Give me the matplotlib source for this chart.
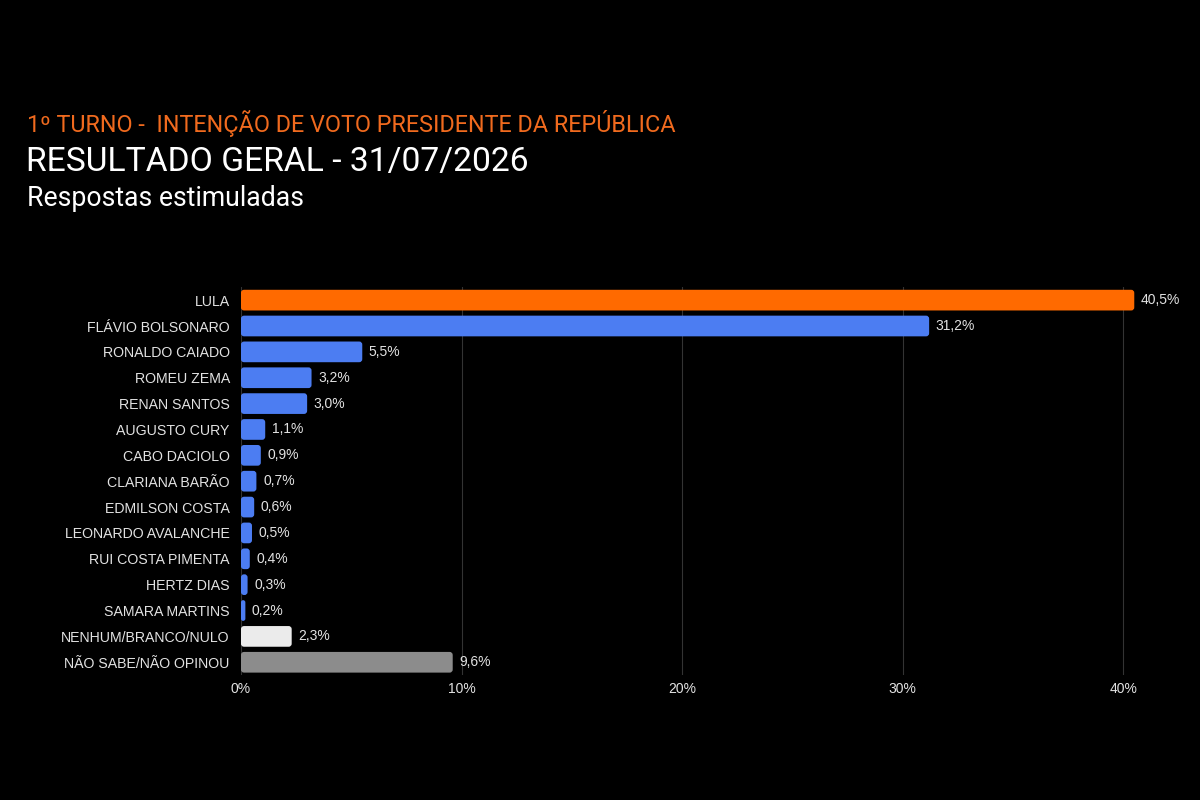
import numpy as np
import matplotlib
matplotlib.use("Agg")
import matplotlib.pyplot as plt
from matplotlib.patches import FancyBboxPatch

# ==================================================
# Data
# ==================================================
candidates = [
    "LULA", "FLÁVIO BOLSONARO", "RONALDO CAIADO", "ROMEU ZEMA", "RENAN SANTOS",
    "AUGUSTO CURY", "CABO DACIOLO", "CLARIANA BARÃO", "EDMILSON COSTA",
    "LEONARDO AVALANCHE", "RUI COSTA PIMENTA", "HERTZ DIAS", "SAMARA MARTINS",
    "NENHUM/BRANCO/NULO", "NÃO SABE/NÃO OPINOU",
]
values = [40.5, 31.2, 5.5, 3.2, 3.0, 1.1, 0.9, 0.7, 0.6, 0.5, 0.4, 0.3, 0.2, 2.3, 9.6]
bar_colors = ["#FF6A00"] + ["#4C7DF2"] * 12 + ["#EBEBEB", "#8C8C8C"]
x_ticks = [0, 10, 20, 30, 40]

title_1 = "1º TURNO -  INTENÇÃO DE VOTO PRESIDENTE DA REPÚBLICA"
title_2 = "RESULTADO GERAL - 31/07/2026"
title_3 = "Respostas estimuladas"

bg = "#000000"
label_color = "#E2E2E2"

# ==================================================
# Figure
# ==================================================
fig = plt.figure(figsize=(12, 8), dpi=100, facecolor=bg)
ax = fig.add_axes([0.2008, 0.156, 0.772, 0.485], facecolor=bg)

y = np.arange(len(candidates))
bars = ax.barh(y, values, height=0.8, color=bar_colors)

ax.set_xlim(0, 42)
ax.set_ylim(len(candidates) - 0.5, -0.5)

# swap plain bars for rounded ones
aspect = 0.853
for bar, col in zip(bars, bar_colors):
    x0, y0 = bar.get_x(), bar.get_y()
    w, h = bar.get_width(), bar.get_height()
    r = min(0.14, w / 2)
    patch = FancyBboxPatch((x0, y0), w, h,
                           boxstyle=f"round,pad=0,rounding_size={r}",
                           mutation_aspect=aspect,
                           facecolor=col, edgecolor="none", zorder=3)
    bar.set_visible(False)
    ax.add_patch(patch)

for yi, v in zip(y, values):
    ax.text(v + 0.3, yi, f"{v:.1f}%".replace(".", ","),
            va="center", ha="left", fontsize=10, color=label_color,
            family="Liberation Sans")

ax.set_yticks(y)
ax.set_yticklabels(candidates, fontsize=10.2, color=label_color, family="Liberation Sans")
ax.set_xticks(x_ticks)
ax.set_xticklabels([f"{t}%" for t in x_ticks], fontsize=10, color=label_color,
                   family="Liberation Sans")
ax.tick_params(axis="both", length=0)
ax.tick_params(axis="y", pad=8)
ax.tick_params(axis="x", pad=5)

ax.grid(axis="x", color="#333333", linewidth=0.8, zorder=0)
ax.set_axisbelow(True)
for s in ax.spines.values():
    s.set_visible(False)

# ==================================================
# Titles
# ==================================================
fig.text(0.0225, 0.846, title_1, color="#F06A1E", fontsize=16.8, family="Roboto", va="center")
fig.text(0.0215, 0.798, title_2, color="#FFFFFF", fontsize=24.2, family="Roboto", va="center")
fig.text(0.0225, 0.752, title_3, color="#FFFFFF", fontsize=19.2, family="Roboto", va="center")

fig.savefig("out.png", dpi=100, facecolor=bg)
